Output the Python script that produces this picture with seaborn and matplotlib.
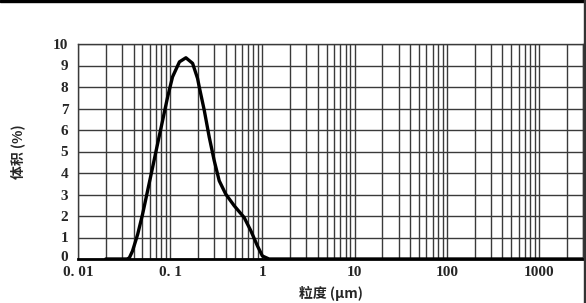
import matplotlib
matplotlib.use("Agg")
import matplotlib.pyplot as plt
import matplotlib.transforms as mtransforms
import seaborn as sns
import pandas as pd
import numpy as np
from matplotlib.ticker import LogLocator, FixedLocator, NullFormatter

sns.set_theme(style="white")
plt.rcParams['font.family'] = ['Liberation Serif', 'Noto Sans CJK SC']

size_um = [0.02, 0.030, 0.034, 0.036, 0.039, 0.0444, 0.0502, 0.0569, 0.0645, 0.073,
           0.0828, 0.0938, 0.106, 0.126, 0.148, 0.175, 0.198, 0.2066, 0.234, 0.265,
           0.30, 0.34, 0.40, 0.494, 0.634, 0.75, 0.883, 1.0, 1.18, 1.5,
           10.0, 100.0, 1000.0, 3000.0]
volume_pct = [0.0, 0.0, 0.0, 0.05, 0.37, 1.15, 2.09, 3.18, 4.27, 5.36,
              6.45, 7.54, 8.47, 9.17, 9.36, 9.1, 8.4, 8.0, 6.92, 5.67,
              4.58, 3.64, 3.02, 2.48, 1.93, 1.31, 0.61, 0.14, 0.0, 0.0,
              0.0, 0.0, 0.0, 0.0]
x_ticks = [0.01, 0.1, 1, 10, 100, 1000]
x_tick_labels = ["0. 01", "0. 1", "1", "10", "100", "1000"]
y_ticks = list(range(0, 11))

df = pd.DataFrame({"size": size_um, "vol": volume_pct})

fig = plt.figure(figsize=(5.86, 3.03), dpi=100)
ax = fig.add_axes([78/586, 44/303, (583-78)/586, (259-44)/303])

sns.lineplot(data=df, x="size", y="vol", ax=ax, color="black", lw=2.4, zorder=5)
ax.set_xscale("log")
ax.set_xlim(0.01, 3000)
ax.set_ylim(0, 10)

ax.xaxis.set_major_locator(FixedLocator(x_ticks))
ax.xaxis.set_minor_locator(LogLocator(base=10, subs=np.arange(2, 10)))
ax.xaxis.set_minor_formatter(NullFormatter())
ax.set_xticks(x_ticks)
ax.set_xticklabels(x_tick_labels, fontsize=11, fontweight="bold")
ax.set_yticks(y_ticks)
ax.set_yticklabels([str(v) for v in y_ticks], fontsize=11, fontweight="bold")
ax.tick_params(axis="x", which="both", length=0, pad=5)
ax.tick_params(axis="y", which="both", length=0, pad=7)

# nudge the "0" label up a little so it does not sit on "0. 01"
zero_lbl = ax.get_yticklabels()[0]
zero_lbl.set_transform(zero_lbl.get_transform() +
                       mtransforms.ScaledTranslation(0, 3/100, fig.dpi_scale_trans))

ax.grid(True, which="both", axis="x", color="#3a3a3a", lw=1.0)
ax.grid(True, which="major", axis="y", color="#3a3a3a", lw=1.0)
for s in ax.spines.values():
    s.set_color("#3a3a3a")
    s.set_linewidth(1.0)
ax.spines["bottom"].set_color("black")
ax.spines["bottom"].set_linewidth(2)

ax.set_xlabel("粒度 (μm)", fontsize=10, fontweight="bold",
              family=['Noto Sans CJK SC', 'DejaVu Sans'], labelpad=5)
ax.set_ylabel("体积 (%)", fontsize=10, fontweight="bold",
              family=['Noto Sans CJK SC', 'DejaVu Sans'], labelpad=20)

# top black band and right edge of the scan
fig.patches.append(plt.Rectangle((0, 1 - 2/303), 1, 2/303, transform=fig.transFigure,
                                 color="black", zorder=10))
fig.patches.append(plt.Rectangle((1 - 2/586, 0), 2/586, 1, transform=fig.transFigure,
                                 color="#333333", zorder=10))

fig.savefig("out.png", dpi=100)
